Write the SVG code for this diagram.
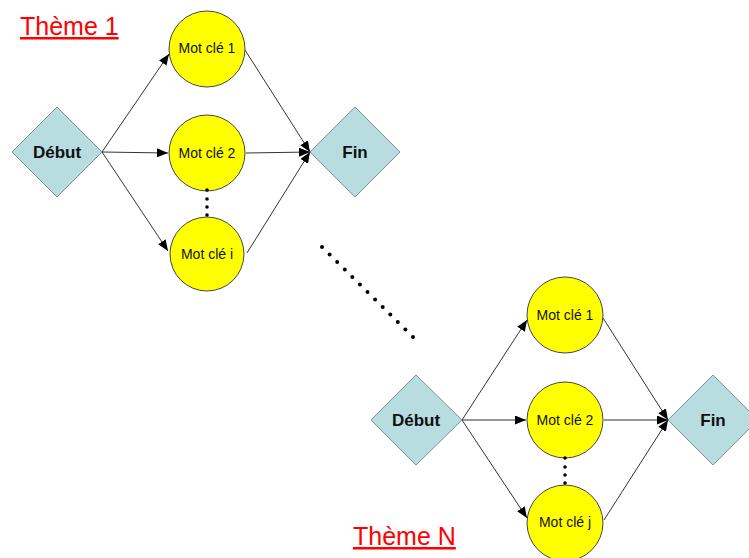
<svg xmlns="http://www.w3.org/2000/svg" width="749" height="558" viewBox="0 0 749 558">
<style>
.dia{fill:#B7DDE0;stroke:#7A9496;stroke-width:1}
.kw{fill:#FFFF00;stroke:#444;stroke-width:1}
.kt{font-family:"Liberation Sans",Arial,sans-serif;font-size:14px;fill:#111;text-anchor:middle}
.dt{font-family:"Liberation Sans",Arial,sans-serif;font-size:17px;font-weight:bold;fill:#111;text-anchor:middle}
.th{font-family:"Liberation Sans",Arial,sans-serif;font-size:25px;fill:#FF0000;text-decoration:underline}
.cn{stroke:#333;stroke-width:1;fill:none;marker-end:url(#ah)}
.dot{fill:#000}
</style>
<defs>
<marker id="ah" markerUnits="userSpaceOnUse" markerWidth="12" markerHeight="10" refX="11" refY="4.5" orient="auto" viewBox="0 0 12 10">
<path d="M0,0 L11,4.5 L0,9 z" fill="#000"/>
</marker>
</defs>
<text class="th" x="20" y="35">Thème 1</text>
<text class="th" x="353" y="545">Thème N</text>
<g id="connectors">
<line class="cn" x1="102" y1="152" x2="169" y2="54"/>
<line class="cn" x1="102" y1="152" x2="168" y2="153"/>
<line class="cn" x1="102" y1="152" x2="168" y2="251"/>
<line class="cn" x1="245" y1="50" x2="310" y2="152"/>
<line class="cn" x1="246" y1="153" x2="310" y2="152"/>
<line class="cn" x1="247" y1="253" x2="310" y2="152"/>
<line class="cn" x1="462" y1="420" x2="527" y2="320"/>
<line class="cn" x1="462" y1="420" x2="526" y2="420"/>
<line class="cn" x1="462" y1="420" x2="527" y2="518"/>
<line class="cn" x1="603" y1="318" x2="668" y2="420"/>
<line class="cn" x1="604" y1="420" x2="668" y2="420"/>
<line class="cn" x1="604" y1="520" x2="668" y2="420"/>
</g>
<g id="debut1"><polygon class="dia" points="12,152 57,107 102,152 57,197"/><text class="dt" x="57" y="158">Début</text></g>
<g id="fin1"><polygon class="dia" points="310,152 355,107 400,152 355,197"/><text class="dt" x="355" y="158">Fin</text></g>
<g id="mc1"><circle class="kw" cx="207" cy="49" r="38"/><text class="kt" x="207" y="53">Mot clé 1</text></g>
<g id="mc2"><circle class="kw" cx="207" cy="153" r="38"/><text class="kt" x="207" y="158">Mot clé 2</text></g>
<g id="mci"><circle class="kw" cx="207" cy="254" r="37"/><text class="kt" x="207" y="259">Mot clé i</text></g>
<g id="debutN"><polygon class="dia" points="371,420 416,375 462,420 416,465"/><text class="dt" x="416" y="426">Début</text></g>
<g id="finN"><polygon class="dia" points="668,420 713,375 758,420 713,465"/><text class="dt" x="713" y="426">Fin</text></g>
<g id="mcN1"><circle class="kw" cx="565" cy="315" r="38"/><text class="kt" x="565" y="320">Mot clé 1</text></g>
<g id="mcN2"><circle class="kw" cx="565" cy="420" r="38"/><text class="kt" x="565" y="425">Mot clé 2</text></g>
<g id="mcNj"><circle class="kw" cx="565" cy="523" r="38"/><text class="kt" x="565" y="527">Mot clé j</text></g>
<g id="dots">
<circle class="dot" cx="207" cy="190" r="1.8"/><circle class="dot" cx="207" cy="199" r="1.8"/><circle class="dot" cx="207" cy="207" r="1.8"/><circle class="dot" cx="207" cy="215" r="1.8"/>
<circle class="dot" cx="565" cy="458" r="1.8"/><circle class="dot" cx="565" cy="467" r="1.8"/><circle class="dot" cx="565" cy="475" r="1.8"/><circle class="dot" cx="565" cy="483" r="1.8"/>
<circle class="dot" cx="322" cy="247" r="2"/><circle class="dot" cx="329.6" cy="254.5" r="2"/><circle class="dot" cx="337.2" cy="262" r="2"/><circle class="dot" cx="344.8" cy="269.5" r="2"/><circle class="dot" cx="352.3" cy="277" r="2"/><circle class="dot" cx="359.9" cy="284.5" r="2"/><circle class="dot" cx="367.5" cy="292" r="2"/><circle class="dot" cx="375.1" cy="299.5" r="2"/><circle class="dot" cx="382.7" cy="307" r="2"/><circle class="dot" cx="390.3" cy="314.5" r="2"/><circle class="dot" cx="397.8" cy="322" r="2"/><circle class="dot" cx="405.4" cy="329.5" r="2"/><circle class="dot" cx="413" cy="337" r="2"/>
</g>
</svg>
